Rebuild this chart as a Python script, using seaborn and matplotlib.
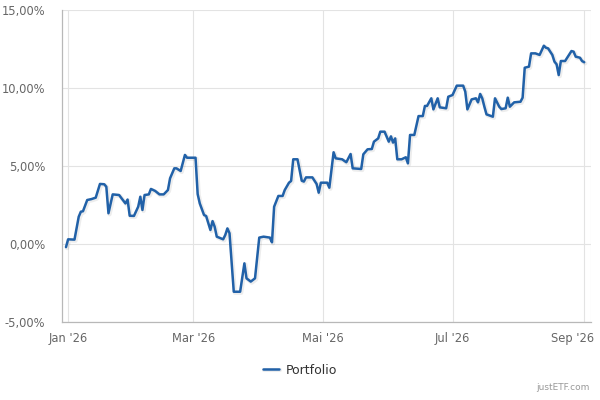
import numpy as np
import pandas as pd
import matplotlib
matplotlib.use("Agg")
import matplotlib.pyplot as plt
import matplotlib.patheffects as pe
import matplotlib.transforms as mtrans
from matplotlib.ticker import FuncFormatter
import seaborn as sns

dates = [
    "2025-12-31", "2026-01-01", "2026-01-04", "2026-01-06", "2026-01-07", "2026-01-08",
    "2026-01-10", "2026-01-12", "2026-01-14", "2026-01-16", "2026-01-18", "2026-01-19",
    "2026-01-20", "2026-01-22", "2026-01-25", "2026-01-28", "2026-01-29", "2026-01-30",
    "2026-02-01", "2026-02-03", "2026-02-04", "2026-02-05", "2026-02-06", "2026-02-08",
    "2026-02-09", "2026-02-11", "2026-02-13", "2026-02-15", "2026-02-17", "2026-02-18",
    "2026-02-20", "2026-02-21", "2026-02-23", "2026-02-25", "2026-02-26", "2026-03-02",
    "2026-03-03", "2026-03-04", "2026-03-06", "2026-03-07", "2026-03-09", "2026-03-10",
    "2026-03-11", "2026-03-12", "2026-03-15", "2026-03-16", "2026-03-17", "2026-03-18",
    "2026-03-20", "2026-03-23", "2026-03-25", "2026-03-26", "2026-03-28", "2026-03-30",
    "2026-04-01", "2026-04-03", "2026-04-06", "2026-04-07", "2026-04-08", "2026-04-10",
    "2026-04-12", "2026-04-13", "2026-04-15", "2026-04-16", "2026-04-17", "2026-04-19",
    "2026-04-21", "2026-04-22", "2026-04-23", "2026-04-26", "2026-04-28", "2026-04-29",
    "2026-04-30", "2026-05-03", "2026-05-04", "2026-05-06", "2026-05-07", "2026-05-10",
    "2026-05-12", "2026-05-14", "2026-05-15", "2026-05-19", "2026-05-20", "2026-05-22",
    "2026-05-24", "2026-05-25", "2026-05-27", "2026-05-28", "2026-05-30", "2026-06-01",
    "2026-06-02", "2026-06-03", "2026-06-04", "2026-06-05", "2026-06-07", "2026-06-09",
    "2026-06-10", "2026-06-11", "2026-06-13", "2026-06-15", "2026-06-17", "2026-06-18",
    "2026-06-19", "2026-06-21", "2026-06-22", "2026-06-24", "2026-06-25", "2026-06-28",
    "2026-06-29", "2026-07-01", "2026-07-03", "2026-07-06", "2026-07-07", "2026-07-08",
    "2026-07-10", "2026-07-12", "2026-07-13", "2026-07-14", "2026-07-15", "2026-07-16",
    "2026-07-17", "2026-07-20", "2026-07-21", "2026-07-23", "2026-07-24", "2026-07-26",
    "2026-07-27", "2026-07-28", "2026-07-30", "2026-08-02", "2026-08-03", "2026-08-04",
    "2026-08-06", "2026-08-07", "2026-08-09", "2026-08-11", "2026-08-13", "2026-08-14",
    "2026-08-15", "2026-08-17", "2026-08-18", "2026-08-19", "2026-08-20", "2026-08-21",
    "2026-08-23", "2026-08-24", "2026-08-26", "2026-08-27", "2026-08-28", "2026-08-30",
    "2026-08-31", "2026-09-01",
]
returns_pct = [
    -0.2, 0.3, 0.28, 1.75, 2.07, 2.1,
    2.82, 2.88, 2.97, 3.85, 3.83, 3.67,
    1.97, 3.18, 3.14, 2.6, 2.85, 1.81,
    1.8, 2.39, 3.03, 2.18, 3.14, 3.18,
    3.53, 3.4, 3.18, 3.18, 3.46, 4.21,
    4.85, 4.85, 4.68, 5.71, 5.53, 5.53,
    3.2, 2.6, 1.86, 1.79, 0.9, 1.47,
    1.11, 0.47, 0.3, 0.58, 1.0, 0.69,
    -3.06, -3.06, -1.24, -2.2, -2.41, -2.2,
    0.41, 0.47, 0.41, 0.11, 2.39, 3.08,
    3.08, 3.46, 3.93, 4.04, 5.43, 5.43,
    4.06, 4.0, 4.27, 4.27, 3.85, 3.29,
    3.93, 3.93, 3.61, 5.88, 5.49, 5.43,
    5.24, 5.77, 4.85, 4.81, 5.75, 6.07,
    6.09, 6.56, 6.77, 7.2, 7.2, 6.56,
    6.9, 6.5, 6.77, 5.43, 5.43, 5.56,
    5.17, 6.99, 6.99, 8.2, 8.2, 8.85,
    8.85, 9.34, 8.63, 9.34, 8.76, 8.7,
    9.44, 9.55, 10.15, 10.15, 9.77, 8.63,
    9.27, 9.34, 9.08, 9.62, 9.34, 8.8,
    8.31, 8.16, 9.34, 8.8, 8.65, 8.7,
    9.38, 8.8, 9.08, 9.12, 9.38, 11.3,
    11.37, 12.22, 12.22, 12.12, 12.71, 12.58,
    12.54, 12.12, 11.69, 11.52, 10.83, 11.73,
    11.73, 11.94, 12.37, 12.33, 12.01, 11.94,
    11.73, 11.65,
]
tick_dates = ["2026-01-01", "2026-03-01", "2026-05-01", "2026-07-01", "2026-09-01"]
tick_labels = ["Jan '26", "Mar '26", "Mai '26", "Jul '26", "Sep '26"]
y_ticks = [-5, 0, 5, 10, 15]

df = pd.DataFrame({"date": pd.to_datetime(dates), "Portfolio": returns_pct})

sns.set_theme(style="whitegrid")
plt.rcParams['font.family'] = ['DejaVu Sans']

fig = plt.figure(figsize=(6, 4), dpi=100)
ax = fig.add_axes([0.103, 0.195, 0.882, 0.78])

line_color = "#2161a8"
sns.lineplot(data=df, x="date", y="Portfolio", ax=ax, color=line_color,
             linewidth=1.8, label="Portfolio")
ax.lines[0].set_path_effects([
    pe.SimpleLineShadow(offset=(0.8, -0.8), shadow_color="#000000", alpha=0.07, linewidth=3),
    pe.Normal(),
])

start = pd.Timestamp("2026-01-01")
ax.set_xlim(start - pd.Timedelta(days=2.97), start + pd.Timedelta(days=246.2))
ax.set_ylim(-5, 15)
ax.set_xticks(pd.to_datetime(tick_dates))
ax.set_xticklabels(tick_labels)
ax.set_yticks(y_ticks)
ax.yaxis.set_major_formatter(FuncFormatter(lambda v, p: f"{v:.2f}".replace(".", ",") + "%"))

ax.set_xlabel("")
ax.set_ylabel("")
ax.grid(True, color="#e3e3e3", linewidth=0.8)
ax.tick_params(axis="both", length=0, labelsize=8.3, labelcolor="#666666")
ax.tick_params(axis="y", pad=12)
ax.tick_params(axis="x", pad=7)

# last x label is pulled left so it stays inside the figure, like the original
last_lbl = ax.get_xticklabels()[-1]
last_lbl.set_transform(last_lbl.get_transform() + mtrans.ScaledTranslation(-12 / 100, 0, fig.dpi_scale_trans))

for side in ["top", "right"]:
    ax.spines[side].set_visible(False)
ax.spines["left"].set_color("#b8b8b8")
ax.spines["bottom"].set_color("#b8b8b8")
ax.spines["left"].set_linewidth(0.9)
ax.spines["bottom"].set_linewidth(0.9)
ax.axvline(start + pd.Timedelta(days=246.2), color="#e3e3e3", linewidth=0.8)

ax.legend(loc="center", bbox_to_anchor=(0.5, 0.075), bbox_transform=fig.transFigure,
          frameon=False, fontsize=9, handlelength=1.3, handletextpad=0.5,
          labelcolor="#333333")

fig.text(0.983, 0.02, "justETF.com", ha="right", va="bottom", fontsize=6.5, color="#999999")

plt.savefig("out.png", dpi=100)
